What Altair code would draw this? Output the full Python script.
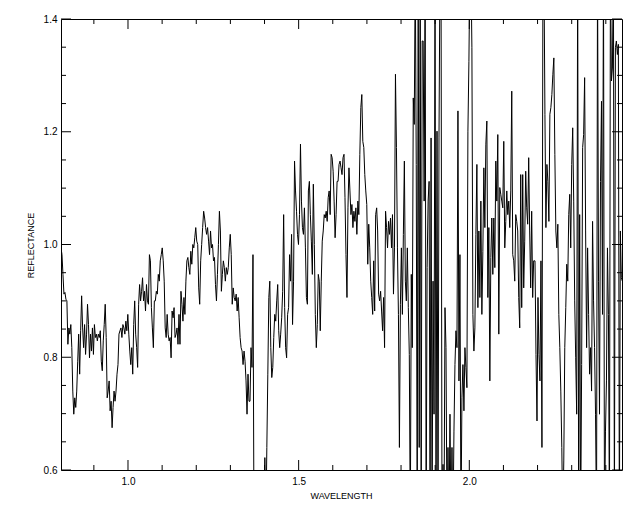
import altair as alt
import numpy as np
import pandas as pd

# Wavelength span of each segment (micrometres)
seg_bounds = [(0.8037, 1.0772), (1.0801, 1.3545), (1.3575, 1.6329),
              (1.6358, 1.9112), (1.9142, 2.1886), (2.1925, 2.4484)]

refl_a = [0.994,0.982,0.947,0.912,0.915,0.903,0.900,0.823,0.852,0.841,0.858,0.817,0.740,0.699,0.728,0.711,0.740,0.793,0.841,0.770,
          0.847,0.909,0.852,0.817,0.858,0.805,0.841,0.894,0.858,0.799,0.841,0.811,0.852,0.805,0.858,0.835,0.841,0.829,0.841,0.835,
          0.847,0.793,0.776,0.829,0.858,0.894,0.835,0.728,0.740,0.758,0.705,0.722,0.675,0.711,0.740,0.722,0.740,0.770,0.787,0.841,
          0.847,0.852,0.835,0.858,0.852,0.841,0.864,0.847,0.876,0.841,0.811,0.787,0.817,0.770,0.858,0.900,0.841,0.817,0.782,0.894,
          0.929,0.900,0.917,0.941,0.900,0.917,0.882,0.929,0.900,0.894,0.982,0.971,0.888,0.852,0.817,0.900]
refl_b = [0.900,0.917,0.912,0.947,0.935,0.971,0.982,0.994,0.971,0.935,0.852,0.835,0.876,0.841,0.829,0.835,0.799,0.882,0.870,0.888,
          0.835,0.841,0.852,0.823,0.876,0.823,0.917,0.894,0.864,0.906,0.876,0.935,0.971,0.977,0.959,0.947,0.988,0.965,1.000,0.994,
          1.012,1.030,1.006,1.000,0.923,0.894,0.971,1.000,1.030,1.059,1.047,1.030,1.018,1.030,1.006,0.982,1.024,0.994,1.000,0.971,
          0.977,0.929,0.900,0.947,1.000,1.059,1.024,0.917,0.947,0.971,0.959,0.935,0.959,0.947,0.959,0.994,1.018,0.982,0.894,0.923,
          0.906,0.900,0.912,0.882,0.906,0.870,0.835,0.817,0.811,0.787,0.811,0.793,0.758,0.699,0.770,0.722]
refl_c = [0.722,0.817,0.782,0.982,0.50,0.45,0.42,0.40,0.42,0.45,0.43,0.41,0.44,0.47,0.50,0.622,0.50,0.640,0.770,0.906,
          0.935,0.817,0.764,0.782,0.835,0.876,0.864,0.900,0.929,0.847,0.817,0.841,0.870,0.917,1.053,0.888,0.817,0.799,0.876,0.888,
          0.982,0.935,1.018,0.858,0.935,1.148,1.095,1.059,1.018,1.000,1.053,1.178,1.077,1.030,1.018,1.065,0.994,0.906,0.894,1.095,
          1.112,1.053,1.006,0.947,1.107,1.000,0.876,0.817,0.858,0.947,0.935,0.847,0.935,1.006,1.024,1.053,1.047,1.059,1.041,1.083,
          1.095,1.053,1.160,1.154,1.130,1.077,1.012,1.053,1.112,1.112,1.142,1.148,1.136,1.124,1.154,1.160]
refl_d = [1.083,0.982,0.906,1.065,1.136,1.095,1.053,1.071,1.030,1.059,1.041,1.065,1.018,1.077,1.053,1.160,1.243,1.266,1.183,1.172,
          1.124,1.095,1.071,0.965,1.036,0.994,0.935,0.906,0.876,0.971,0.882,1.053,1.065,1.024,0.912,0.900,0.917,0.882,0.847,0.906,
          0.817,1.059,1.030,0.994,1.041,1.018,1.047,0.994,1.053,0.912,0.994,1.302,1.172,0.994,0.876,0.640,0.894,0.994,0.876,1.018,
          1.148,0.935,0.900,0.994,0.888,0.805,0.50,0.947,0.817,1.260,1.213,1.50,1.142,0.50,1.50,0.640,1.50,0.50,1.361,1.361,
          1.077,1.50,0.50,0.959,1.077,1.112,0.50,1.189,0.50,0.935,0.699,1.50,0.50,1.201,0.50,1.189]
refl_e = [1.50,1.50,0.50,0.610,0.50,0.888,0.817,0.50,0.640,0.50,0.699,0.50,0.640,0.50,0.669,0.787,0.847,0.817,1.237,0.758,
          0.982,0.50,0.728,0.787,0.705,0.817,0.782,0.746,1.201,1.325,1.50,1.50,1.349,0.876,0.811,0.852,1.018,1.142,0.888,1.024,
          0.906,1.077,0.876,0.988,1.136,1.030,1.178,1.219,0.906,1.030,0.758,0.977,1.047,0.947,1.047,0.959,1.148,1.077,1.195,0.841,
          1.101,1.089,1.077,1.065,1.183,0.994,1.041,1.095,1.053,1.077,1.030,1.095,1.272,0.982,0.971,0.935,1.053,1.041,1.024,0.906,
          0.852,1.124,0.888,1.124,0.923,1.006,1.130,1.065,1.036,1.154,1.024,0.923,1.059,0.906,0.971]
refl_f = [0.971,0.805,0.687,0.906,0.805,0.758,0.971,0.640,1.50,1.50,1.231,1.030,1.142,1.112,1.041,1.231,1.243,1.266,1.302,1.331,
          1.160,1.024,0.994,1.036,0.876,0.817,0.740,0.640,0.50,0.616,0.817,0.888,0.965,0.935,1.053,1.089,0.994,1.142,1.207,1.077,
          0.900,0.799,0.699,1.50,0.50,1.053,0.50,0.787,1.172,1.195,1.296,1.024,0.817,0.994,0.876,0.770,0.817,0.740,1.041,0.900,
          0.817,0.699,0.50,1.50,0.935,0.699,1.112,1.254,0.876,1.50,0.50,0.669,0.758,0.994,0.876,0.50,1.50,1.290,1.313,1.50,
          0.50,1.349,1.361,1.337,1.355,0.50,1.024,0.941,0.935]

segments = [refl_a, refl_b, refl_c, refl_d, refl_e, refl_f]

x_major = [1.0, 1.5, 2.0]
x_minor = [0.9, 1.1, 1.2, 1.3, 1.4, 1.6, 1.7, 1.8, 1.9, 2.1, 2.2, 2.3, 2.4]
y_major = [0.6, 0.8, 1.0, 1.2, 1.4]
y_minor = [0.65, 0.7, 0.75, 0.85, 0.9, 0.95, 1.05, 1.1, 1.15, 1.25, 1.3, 1.35]

x_domain = [0.8037, 2.4474]
y_domain = [0.6, 1.4]

rows = []
for (w0, w1), vals in zip(seg_bounds, segments):
    wl = np.linspace(w0, w1, len(vals))
    rows += list(zip(wl, vals))
df = pd.DataFrame(rows, columns=["wavelength", "reflectance"])

W, H = 561, 451
FONT = "Liberation Sans"

xs = alt.Scale(domain=x_domain, nice=False, zero=False)
ys = alt.Scale(domain=y_domain, nice=False, zero=False)

line = alt.Chart(df).mark_line(color="black", strokeWidth=1, clip=True).encode(
    x=alt.X("wavelength:Q", scale=xs,
            axis=alt.Axis(values=x_major, format=".1f", title="WAVELENGTH",
                          labelFontSize=10, labelPadding=6, labelFont=FONT,
                          titleFont=FONT, titleFontSize=9, titleFontWeight="normal",
                          titleY=25, titleX=280, titleBaseline="middle", titleAlign="center")),
    y=alt.Y("reflectance:Q", scale=ys,
            axis=alt.Axis(values=y_major, format=".1f", title="REFLECTANCE",
                          labelFontSize=10, labelPadding=4, labelFont=FONT,
                          titleFont=FONT, titleFontSize=9, titleFontWeight="normal",
                          titleX=-31, titleY=226, titleAngle=270,
                          titleBaseline="middle", titleAlign="center")),
    order="wavelength:Q",
)

def xticks(vals, length):
    d = pd.DataFrame({"t": vals})
    bot = alt.Chart(d).mark_rule(color="black", strokeWidth=1).encode(
        x=alt.X("t:Q", scale=xs), y=alt.value(H), y2=alt.value(H - length))
    top = alt.Chart(d).mark_rule(color="black", strokeWidth=1).encode(
        x=alt.X("t:Q", scale=xs), y=alt.value(0), y2=alt.value(length))
    return [bot, top]

def yticks(vals, length):
    d = pd.DataFrame({"t": vals})
    left = alt.Chart(d).mark_rule(color="black", strokeWidth=1).encode(
        y=alt.Y("t:Q", scale=ys), x=alt.value(0), x2=alt.value(length))
    right = alt.Chart(d).mark_rule(color="black", strokeWidth=1).encode(
        y=alt.Y("t:Q", scale=ys), x=alt.value(W), x2=alt.value(W - length))
    return [left, right]

layers = [line] + xticks(x_major, 10) + xticks(x_minor, 5) + yticks(y_major, 10) + yticks(y_minor, 5)

chart = alt.layer(*layers).properties(
    width=W, height=H,
    padding={"left": 53, "top": 11, "right": 10, "bottom": 34},
    autosize="none",
    background="white",
).configure_view(stroke="black", strokeWidth=1).configure_axis(
    domain=False, ticks=False, grid=False, labelColor="black", titleColor="black"
)

chart.save("out.html", embed_options={"renderer": "svg", "actions": False})
